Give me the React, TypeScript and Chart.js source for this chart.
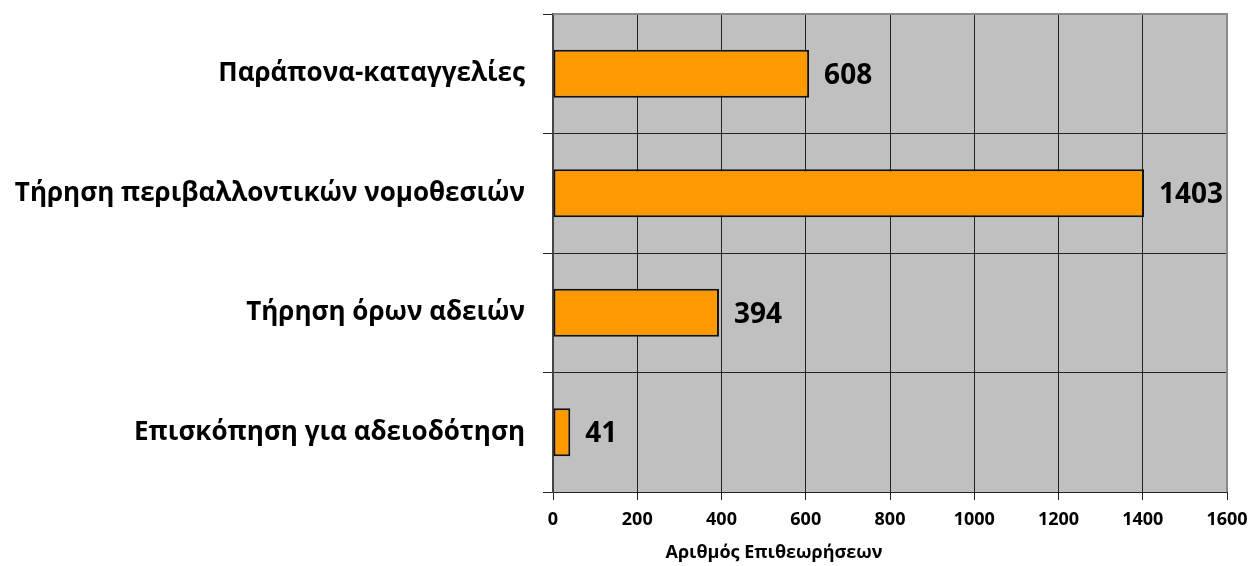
import React, { useEffect, useRef } from "react";
import { Chart, registerables } from "chart.js";

Chart.register(...registerables);

const categories = [
  "Παράπονα-καταγγελίες",
  "Τήρηση περιβαλλοντικών νομοθεσιών",
  "Τήρηση όρων αδειών",
  "Επισκόπηση για αδειοδότηση",
];
const inspections = [608, 1403, 394, 41];
const xTicks = [0, 200, 400, 600, 800, 1000, 1200, 1400, 1600];
const xTitle = "Αριθμός Επιθεωρήσεων";

const FONT = "'Open Sans', 'Noto Sans', sans-serif";

export default function App() {
  const ref = useRef<HTMLCanvasElement | null>(null);

  useEffect(() => {
    if (!ref.current) return;

    const bgPlugin = {
      id: "bg",
      beforeDraw(chart: any) {
        const { ctx, chartArea: a } = chart;
        ctx.save();
        ctx.fillStyle = "#C0C0C0";
        ctx.fillRect(a.left, a.top, a.right - a.left, a.bottom - a.top);
        ctx.restore();
      },
      afterDraw(chart: any) {
        const { ctx, chartArea: a } = chart;
        ctx.save();
        ctx.strokeStyle = "#8a8a8a";
        ctx.lineWidth = 2;
        ctx.beginPath();
        ctx.moveTo(a.left, a.top);
        ctx.lineTo(a.right, a.top);
        ctx.lineTo(a.right, a.bottom);
        ctx.stroke();
        ctx.fillStyle = "#000";
        ctx.font = `bold 18px ${FONT}`;
        ctx.textAlign = "center";
        ctx.textBaseline = "middle";
        ctx.fillText(xTitle, 774, 553);
        ctx.restore();
      },
    };

    const labelPlugin = {
      id: "vals",
      afterDatasetsDraw(chart: any) {
        const { ctx } = chart;
        const meta = chart.getDatasetMeta(0);
        ctx.save();
        ctx.fillStyle = "#000";
        ctx.font = `bold 28px ${FONT}`;
        ctx.textAlign = "left";
        ctx.textBaseline = "middle";
        meta.data.forEach((el: any, i: number) => {
          ctx.fillText(String(inspections[i]), el.x + 15, el.y + 2);
        });
        ctx.restore();
      },
    };

    const chart = new Chart(ref.current, {
      type: "bar",
      data: {
        labels: categories,
        datasets: [
          {
            data: inspections,
            backgroundColor: "#FF9900",
            borderColor: "#111",
            borderWidth: 2,
            borderSkipped: false,
            barPercentage: 0.4,
            categoryPercentage: 1,
          },
        ],
      },
      options: {
        indexAxis: "y",
        animation: false,
        responsive: true,
        maintainAspectRatio: false,
        layout: { padding: { top: 14, right: 26, left: 0, bottom: 0 } },
        plugins: {
          legend: { display: false },
          tooltip: { enabled: false },
        },
        scales: {
          x: {
            min: 0,
            max: 1600,
            afterBuildTicks(scale: any) {
              scale.ticks = xTicks.map((v) => ({ value: v }));
            },
            afterFit(scale: any) {
              scale.height = 74;
              scale.paddingLeft = 0;
              scale.paddingRight = 0;
            },
            grid: {
              color: "#222",
              lineWidth: 1,
              tickLength: 8,
              tickColor: "#222",
            },
            border: { color: "#222", width: 1 },
            ticks: {
              color: "#000",
              font: { family: FONT, size: 18, weight: "bold" },
              padding: 9,
              maxRotation: 0,
              callback: (v: any) => String(v),
            },
          },
          y: {
            afterFit(scale: any) {
              scale.width = 553;
              scale.paddingTop = 0;
              scale.paddingBottom = 0;
            },
            grid: {
              color: "#222",
              lineWidth: 1,
              tickLength: 10,
              tickColor: "#222",
            },
            border: { color: "#444", width: 2 },
            ticks: {
              color: "#000",
              font: { family: FONT, size: 26, weight: "bold" },
              padding: 18,
            },
          },
        },
      },
      plugins: [bgPlugin, labelPlugin],
    } as any);

    return () => chart.destroy();
  }, []);

  return (
    <div style={{ position: "absolute", left: 0, top: 0, width: 1253, height: 566 }}>
      <canvas ref={ref} />
    </div>
  );
}
